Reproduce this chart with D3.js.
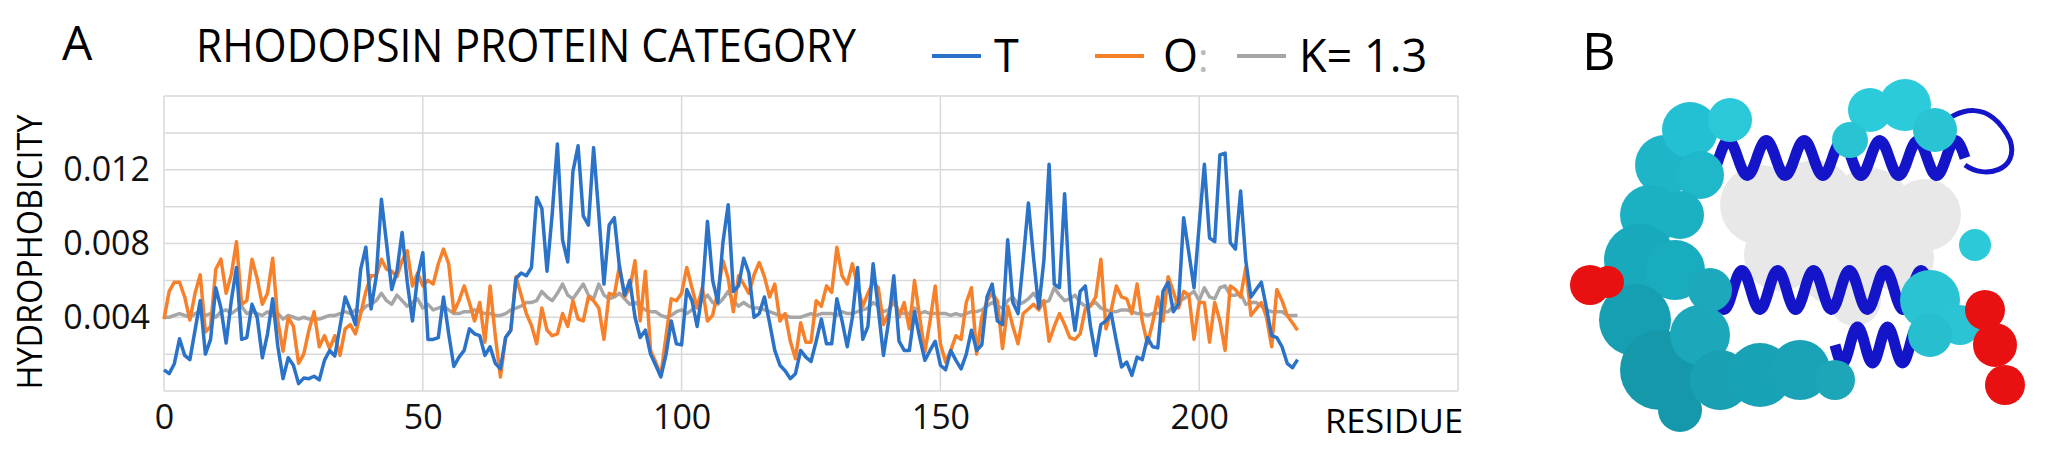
<!DOCTYPE html>
<html lang="en">
<head>
<meta charset="UTF-8">
<script src="https://d3js.org/d3.v7.min.js"></script>
<title>Rhodopsin hydrophobicity</title>
<style>
  body { margin: 0; background: #fff; }
  svg { display: block; font-family: "Open Sans", sans-serif; }
</style>
</head>
<body>
<svg width="2050" height="452"></svg>
<script>
// values in thousandths (x 0.001), residues 0..219
const seriesT = [
  1.15,0.94,1.48,2.83,1.93,1.7,3.3,4.9,2.0,2.8, 5.6,4.5,2.6,4.9,6.7,2.8,2.9,4.7,4.0,1.8,
  3.1,5.0,2.4,0.67,1.8,1.4,0.4,0.7,0.67,0.8, 0.6,1.66,2.2,1.9,3.5,5.1,4.4,3.6,6.6,7.8,
  4.45,6.2,10.4,8.0,5.5,6.5,8.6,5.9,3.8,6.2, 7.5,2.8,2.8,
  2.9,5.1,3.1,1.33,1.84,2.2,3.37,3.1,3.0,1.93, 2.4,1.5,1.2,2.9,3.3,6.1,6.4,6.25,6.7,10.5,
  9.9,6.5,9.6,13.4,8.2,7.0,11.9,13.3,9.5,9.0, 13.2,9.6,5.8,9.0,9.4,6.7,5.2,6.0,4.0,2.9,
  3.3,2.0,1.4,0.76,2.0,3.8,2.56,2.5,5.5,4.9, 3.5,
  5.35,9.2,6.0,4.8,8.1,10.1,5.4,5.7,7.2,6.4, 4.0,4.2,5.1,3.7,2.2,1.4,1.1,0.67,0.94,2.2,
  1.84,1.6,2.7,3.9,2.56,2.56,5.0,3.8,2.4,4.0, 6.7,2.8,3.5,6.9,4.45,1.93,3.8,6.25,2.7,2.2,
  2.2,4.3,2.9,1.66,2.2,2.7,1.4,1.15,2.2,1.66, 1.2,
  2.0,3.3,2.2,2.5,5.1,5.8,3.8,3.6,8.2,4.8, 4.2,7.1,10.2,7.2,4.5,7.1,12.3,5.8,5.6,10.7,
  5.3,3.3,5.4,5.7,3.5,1.93,3.6,3.8,4.2,2.7, 1.3,1.57,0.85,1.84,1.7,2.9,2.4,2.34,5.4,5.9,
  4.3,4.7,9.4,7.5,5.6,9.0,12.3,8.3,8.1,12.8, 12.9,
  8.05,7.7,10.85,7.06,5.1,5.5,5.9,4.5,3.0,2.9, 2.4,1.5,1.26,1.7
];
const seriesO = [
  3.9,5.4,5.9,5.9,5.1,3.85,5.3,6.3,3.2,3.5, 6.6,7.15,5.3,6.3,8.1,4.7,4.9,7.15,6.1,4.7,
  5.3,7.2,3.8,2.16,4.0,3.5,1.5,2.0,3.3,4.3, 2.4,3.0,2.3,3.0,1.93,3.37,3.6,3.1,4.2,5.4,
  6.25,6.25,7.15,6.6,6.5,6.2,7.06,7.6,5.7,6.4, 5.7,6.0,5.8,
  6.9,7.7,6.9,4.3,4.9,5.7,4.8,3.8,4.8,2.65, 5.7,3.0,0.76,2.9,3.3,6.2,5.2,4.2,3.55,2.56,
  4.5,3.3,3.0,3.1,4.2,3.5,4.9,3.9,3.8,5.1, 4.9,4.5,2.8,5.3,5.2,6.8,5.1,5.6,7.06,3.8,
  6.5,2.2,1.57,0.85,3.0,5.0,4.9,5.3,6.7,5.6, 4.5,
  5.6,3.8,4.1,5.4,7.06,6.1,4.3,6.25,5.8,5.3, 6.3,6.97,6.2,5.1,5.8,3.8,4.2,2.7,1.75,3.7,
  2.65,2.65,4.9,4.6,5.7,5.35,7.8,6.25,5.8,6.9, 5.7,4.6,5.3,5.9,5.6,3.6,4.2,5.3,4.0,4.8,
  3.37,6.0,4.0,2.1,3.8,5.7,2.56,1.57,2.2,3.0, 2.8,
  4.8,5.6,2.0,4.0,4.9,5.3,4.9,2.3,4.6,3.5, 2.56,4.2,4.45,4.7,4.4,4.9,2.7,3.5,4.2,3.6,
  2.9,2.8,3.1,4.45,4.6,5.1,7.15,3.37,4.4,5.7, 5.1,5.0,4.2,5.8,3.8,2.56,3.7,5.1,3.8,6.2,
  5.4,4.5,5.4,5.2,2.8,4.8,4.8,2.65,4.8,3.8, 2.2,
  5.7,5.5,5.1,6.7,4.1,4.45,4.8,4.0,2.4,5.5, 4.9,4.1,3.7,3.3
];
const seriesK = [
  4.0,4.0,4.1,4.2,4.1,4.0,4.2,4.3,4.1,4.2, 4.0,4.3,4.4,4.2,4.4,4.6,4.2,4.3,4.2,4.1,
  4.3,4.1,4.2,3.9,4.1,4.0,3.9,4.0,3.9,3.9, 3.9,4.0,4.1,4.1,4.2,4.3,4.2,4.4,4.3,4.6,
  4.7,4.9,5.3,4.9,4.7,5.2,4.9,4.6,4.8,5.0, 4.5,4.7,
  4.4,4.5,4.6,4.4,4.2,4.2,4.3,4.3,4.4,4.3, 4.2,4.2,4.1,4.1,4.2,4.4,4.5,4.6,4.8,4.8,
  4.9,5.4,5.1,4.9,5.3,5.8,5.2,5.0,5.4,5.8, 5.2,5.0,5.8,5.2,5.0,5.1,5.3,5.0,4.7,4.8,
  4.6,4.4,4.3,4.3,4.1,4.0,4.1,4.3,4.4,4.2, 4.4,4.7,
  4.9,5.2,4.8,4.7,5.0,5.4,4.9,4.6,4.8,4.6, 4.5,4.5,4.4,4.3,4.2,4.1,4.1,4.0,4.0,4.0,
  4.1,4.2,4.1,4.2,4.2,4.2,4.1,4.3,4.2,4.2, 4.3,4.4,4.5,4.8,4.6,4.3,4.4,4.8,4.3,4.2,
  4.2,4.5,4.2,4.3,4.2,4.2,4.2,4.2,4.1,4.2, 4.1,
  4.2,4.3,4.3,4.4,4.6,4.8,4.6,4.5,4.9,5.1, 4.7,4.8,5.0,5.3,4.9,4.8,4.9,5.6,5.2,4.9,
  5.0,5.2,4.8,4.6,4.7,4.8,4.5,4.4,4.3,4.3, 4.4,4.4,4.3,4.2,4.2,4.1,4.2,4.2,4.3,4.3,
  4.6,4.9,5.0,5.2,5.4,4.9,5.6,5.1,5.0,5.6, 5.7,
  5.2,5.2,5.3,4.7,4.8,4.8,4.6,4.4,4.3,4.3, 4.3,4.1,4.1,4.1
];
const xTicks = [0, 50, 100, 150, 200];
const yTicks = [0.004, 0.008, 0.012];
const yGrid = [0, 0.002, 0.004, 0.006, 0.008, 0.010, 0.012, 0.014, 0.016];
const legendItems = [
  { label: "T", color: "#2b72c9" },
  { label: "O", color: "#f7812b" },
  { label: "K= 1.3", color: "#a6a6a6" }
];

const svg = d3.select("svg");
const gridColor = "#d9d9d9";

const x = d3.scaleLinear().domain([0, 250]).range([164, 1458]);
const y = d3.scaleLinear().domain([0, 0.016]).range([391, 96]);

// grid
svg.append("g").selectAll("line").data(yGrid).join("line")
  .attr("x1", x(0)).attr("x2", x(250))
  .attr("y1", d => y(d)).attr("y2", d => y(d))
  .attr("stroke", gridColor).attr("stroke-width", 1.5);
svg.append("g").selectAll("line").data(xTicks.concat([250])).join("line")
  .attr("x1", d => x(d)).attr("x2", d => x(d))
  .attr("y1", y(0)).attr("y2", y(0.016))
  .attr("stroke", gridColor).attr("stroke-width", 1.5);

// axes as plain tick labels
const xAxis = d3.axisBottom(x).tickValues(xTicks).tickSize(0).tickPadding(14);
svg.append("g").attr("transform", `translate(0,${y(0)})`).call(xAxis)
  .call(g => g.select(".domain").remove())
  .selectAll("text").attr("font-size", 34).attr("fill", "#111")
  .attr("font-family", "Open Sans");

const yAxis = d3.axisLeft(y).tickValues(yTicks).tickSize(0).tickPadding(14)
  .tickFormat(d3.format(".3f"));
svg.append("g").attr("transform", `translate(${x(0)},0)`).call(yAxis)
  .call(g => g.select(".domain").remove())
  .selectAll("text").attr("font-size", 34).attr("fill", "#111")
  .attr("font-family", "Open Sans");

// lines
const line = d3.line().x((d, i) => x(i)).y(d => y(d / 1000));
[[seriesK, 2], [seriesO, 1], [seriesT, 0]].forEach(([s, k]) => {
  svg.append("path").datum(s)
    .attr("fill", "none").attr("stroke", legendItems[k].color)
    .attr("stroke-width", 3.5).attr("stroke-linejoin", "round")
    .attr("d", line);
});

// titles
svg.append("text").attr("x", 62).attr("y", 60).attr("font-size", 48).text("A");
svg.append("text").attr("x", 196).attr("y", 62).attr("font-size", 45)
  .attr("textLength", 660).attr("lengthAdjust", "spacingAndGlyphs")
  .text("RHODOPSIN PROTEIN CATEGORY");
svg.append("text").attr("transform", "translate(42,252) rotate(-90)")
  .attr("text-anchor", "middle").attr("font-size", 34)
  .attr("textLength", 275).attr("lengthAdjust", "spacingAndGlyphs")
  .text("HYDROPHOBICITY");
svg.append("text").attr("x", 1325).attr("y", 433).attr("font-size", 33)
  .attr("textLength", 138).attr("lengthAdjust", "spacingAndGlyphs")
  .text("RESIDUE");

// legend
const legendX = [932, 1095, 1237];
const lg = svg.append("g").selectAll("g").data(legendItems).join("g")
  .attr("transform", (d, i) => `translate(${legendX[i]},56)`);
lg.append("line").attr("x1", 0).attr("x2", 49)
  .attr("stroke", d => d.color).attr("stroke-width", 4);
lg.append("text").attr("x", (d, i) => i === 1 ? 68 : 62).attr("y", 16)
  .attr("font-size", 45).text(d => d.label);
svg.append("text").attr("x", 1198).attr("y", 72).attr("font-size", 40)
  .attr("fill", "#bbb").text(":");

// panel B: protein structure illustration
svg.append("text").attr("x", 1582).attr("y", 70).attr("font-size", 52).text("B");
const pb = svg.append("g");
const blobs = [
  // [cx, cy, r, color]
  [1665, 165, 30, "#1fb5c8"], [1690, 130, 28, "#22c0d2"], [1730, 120, 22, "#2ac8d8"],
  [1700, 175, 24, "#1fb7ca"], [1650, 215, 30, "#1cb0c3"], [1680, 215, 24, "#1cb0c3"],
  [1640, 260, 36, "#18a9bc"], [1675, 270, 30, "#19abbe"], [1635, 320, 36, "#169fb2"],
  [1660, 370, 40, "#1598aa"], [1680, 410, 22, "#1598aa"], [1700, 335, 30, "#1ba8bb"],
  [1720, 380, 30, "#1aa0b3"], [1760, 375, 32, "#17a2b5"], [1800, 370, 30, "#1aa3b6"],
  [1835, 380, 20, "#1ca6b8"], [1710, 290, 22, "#1ca9bc"],
  [1870, 110, 22, "#2ccbdb"], [1905, 105, 26, "#2ccbdb"], [1935, 130, 22, "#29c4d4"],
  [1850, 140, 18, "#29c4d4"], [1930, 300, 30, "#29c3d3"], [1960, 325, 20, "#2ac4d4"],
  [1930, 335, 22, "#27bfcf"], [1975, 245, 16, "#2ccad9"]
];
const whites = [
  [1760, 205, 40], [1815, 200, 40], [1870, 210, 42], [1925, 215, 36],
  [1780, 255, 36], [1840, 265, 42], [1900, 258, 34], [1855, 300, 26]
];
pb.selectAll("circle.w").data(whites).join("circle")
  .attr("cx", d => d[0]).attr("cy", d => d[1]).attr("r", d => d[2])
  .attr("fill", "#e8e8e8");
// helices
const helix = (x0, x1, yc, amp, turns) => {
  const pts = d3.range(0, 1.0001, 0.01).map(t => [x0 + (x1 - x0) * t, yc + amp * Math.sin(t * turns * 2 * Math.PI)]);
  return d3.line().curve(d3.curveBasis)(pts);
};
[[1700, 1965, 158, 18, 7], [1715, 1930, 290, 20, 6], [1835, 1925, 345, 18, 3]].forEach(h => {
  pb.append("path").attr("d", helix(...h)).attr("fill", "none")
    .attr("stroke", "#1414c8").attr("stroke-width", 11);
});
pb.append("path").attr("d", "M1935,130 C1960,105 1990,100 2010,140 C2020,170 1985,180 1965,165")
  .attr("fill", "none").attr("stroke", "#1414c8").attr("stroke-width", 5);
pb.selectAll("circle.c").data(blobs).join("circle")
  .attr("cx", d => d[0]).attr("cy", d => d[1]).attr("r", d => d[2])
  .attr("fill", d => d[3]);
const reds = [[1590, 285, 20], [1608, 282, 16], [1985, 310, 20], [1995, 345, 22], [2005, 385, 20]];
pb.selectAll("circle.r").data(reds).join("circle")
  .attr("cx", d => d[0]).attr("cy", d => d[1]).attr("r", d => d[2])
  .attr("fill", "#e81010");
</script>
</body>
</html>
